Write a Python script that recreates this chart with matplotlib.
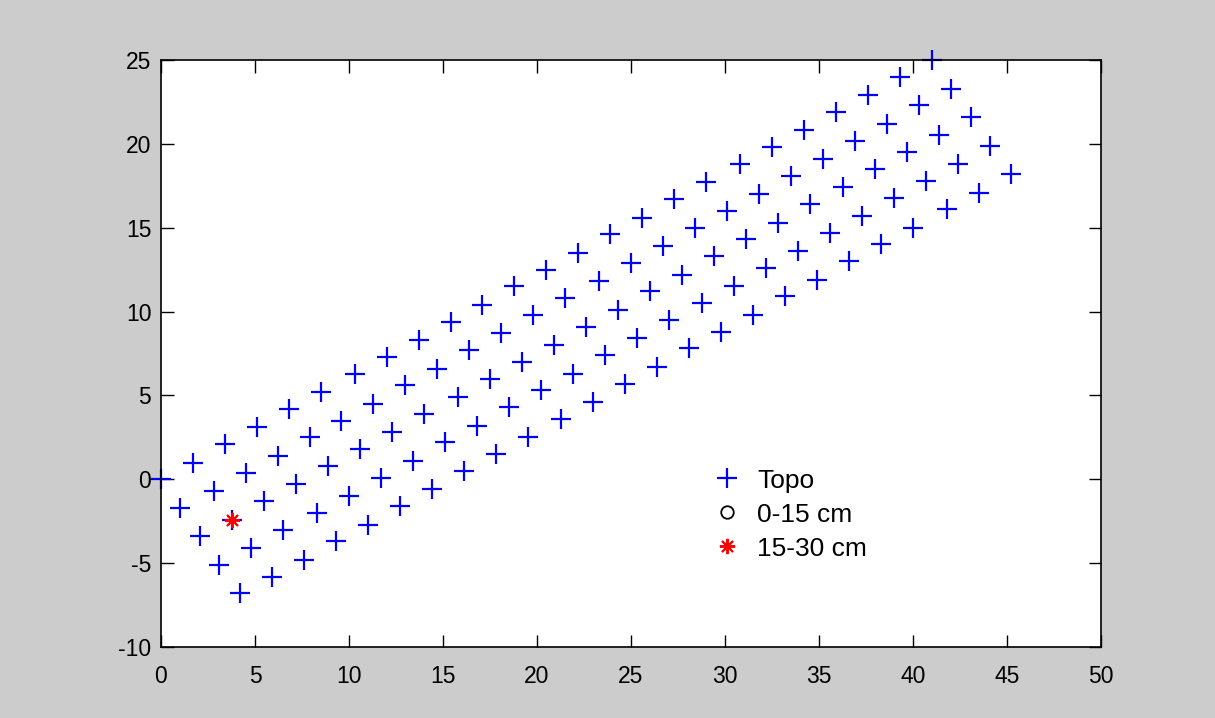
import numpy as np
import matplotlib.pyplot as plt

# Topo grid, read row by row (5 rows of 25 points)
topo_x_rows = [
    [0.0, 1.7, 3.4, 5.1, 6.8, 8.5, 10.3, 12.0, 13.7, 15.4, 17.1, 18.8, 20.5,
     22.2, 23.9, 25.6, 27.3, 29.0, 30.8, 32.5, 34.2, 35.9, 37.6, 39.3, 41.0],
    [1.0, 2.8, 4.5, 6.2, 7.9, 9.6, 11.3, 13.0, 14.7, 16.4, 18.1, 19.8, 21.5,
     23.3, 25.0, 26.7, 28.4, 30.1, 31.8, 33.5, 35.2, 36.9, 38.6, 40.3, 42.0],
    [2.1, 3.8, 5.5, 7.2, 8.9, 10.6, 12.3, 14.0, 15.8, 17.5, 19.2, 20.9, 22.6,
     24.3, 26.0, 27.7, 29.4, 31.1, 32.8, 34.5, 36.3, 38.0, 39.7, 41.4, 43.1],
    [3.1, 4.8, 6.5, 8.3, 10.0, 11.7, 13.4, 15.1, 16.8, 18.5, 20.2, 21.9, 23.6,
     25.3, 27.0, 28.8, 30.5, 32.2, 33.9, 35.6, 37.3, 39.0, 40.7, 42.4, 44.1],
    [4.2, 5.9, 7.6, 9.3, 11.0, 12.7, 14.4, 16.1, 17.8, 19.5, 21.3, 23.0, 24.7,
     26.4, 28.1, 29.8, 31.5, 33.2, 34.9, 36.6, 38.3, 40.0, 41.8, 43.5, 45.2],
]
topo_y_rows = [
    [0.0, 1.0, 2.1, 3.1, 4.2, 5.2, 6.3, 7.3, 8.3, 9.4, 10.4, 11.5, 12.5,
     13.5, 14.6, 15.6, 16.7, 17.7, 18.8, 19.8, 20.8, 21.9, 22.9, 24.0, 25.0],
    [-1.7, -0.7, 0.4, 1.4, 2.5, 3.5, 4.5, 5.6, 6.6, 7.7, 8.7, 9.8, 10.8,
     11.8, 12.9, 13.9, 15.0, 16.0, 17.0, 18.1, 19.1, 20.2, 21.2, 22.3, 23.3],
    [-3.4, -2.4, -1.3, -0.3, 0.8, 1.8, 2.8, 3.9, 4.9, 6.0, 7.0, 8.0, 9.1,
     10.1, 11.2, 12.2, 13.3, 14.3, 15.3, 16.4, 17.4, 18.5, 19.5, 20.5, 21.6],
    [-5.1, -4.1, -3.0, -2.0, -1.0, 0.1, 1.1, 2.2, 3.2, 4.3, 5.3, 6.3, 7.4,
     8.4, 9.5, 10.5, 11.5, 12.6, 13.6, 14.7, 15.7, 16.8, 17.8, 18.8, 19.9],
    [-6.8, -5.8, -4.8, -3.7, -2.7, -1.6, -0.6, 0.5, 1.5, 2.5, 3.6, 4.6, 5.7,
     6.7, 7.8, 8.8, 9.8, 10.9, 11.9, 13.0, 14.0, 15.0, 16.1, 17.1, 18.2],
]

# 0-15 cm samples (none visible on the plot)
s15_x = []
s15_y = []

# 15-30 cm samples
s30_x = [3.8]
s30_y = [-2.4]

labels = ['Topo', '0-15 cm', '15-30 cm']

topo_x = np.concatenate([np.array(r) for r in topo_x_rows])
topo_y = np.concatenate([np.array(r) for r in topo_y_rows])

plt.rcParams['font.family'] = ['Liberation Sans', 'DejaVu Sans']
plt.rcParams['axes.unicode_minus'] = False

fig = plt.figure(figsize=(12.15, 7.18), dpi=100, facecolor='#cccccc')
ax = fig.add_axes([0.1325, 0.0989, 0.7737, 0.8175])
ax.set_facecolor('white')

ax.plot(topo_x, topo_y, '+', color='blue', markersize=14, mew=1.6,
        linestyle='none', label=labels[0], clip_on=False)
ax.plot(s15_x, s15_y, 'o', color='black', mfc='none', markersize=9, mew=1.3,
        linestyle='none', label=labels[1])
ax.plot(s30_x, s30_y, marker=(8, 2, 0), color='red', markersize=11, mew=1.4,
        linestyle='none', label=labels[2])

ax.set_xlim(0, 50)
ax.set_ylim(-10, 25)
ax.set_xticks(np.arange(0, 51, 5))
ax.set_yticks(np.arange(-10, 26, 5))
ax.tick_params(direction='in', top=True, right=True, length=9, width=1,
               labelsize=16.5, colors='black')
ax.tick_params(axis='x', pad=13)
ax.tick_params(axis='y', pad=7)
for s in ax.spines.values():
    s.set_linewidth(1.2)
    s.set_color('black')

leg = ax.legend(loc='upper left', bbox_to_anchor=(0.575, 0.322),
                frameon=False, fontsize=19, handlelength=1.1,
                handletextpad=0.6, labelspacing=0.38, borderaxespad=0)

fig.savefig('out.png', dpi=100, facecolor=fig.get_facecolor())
